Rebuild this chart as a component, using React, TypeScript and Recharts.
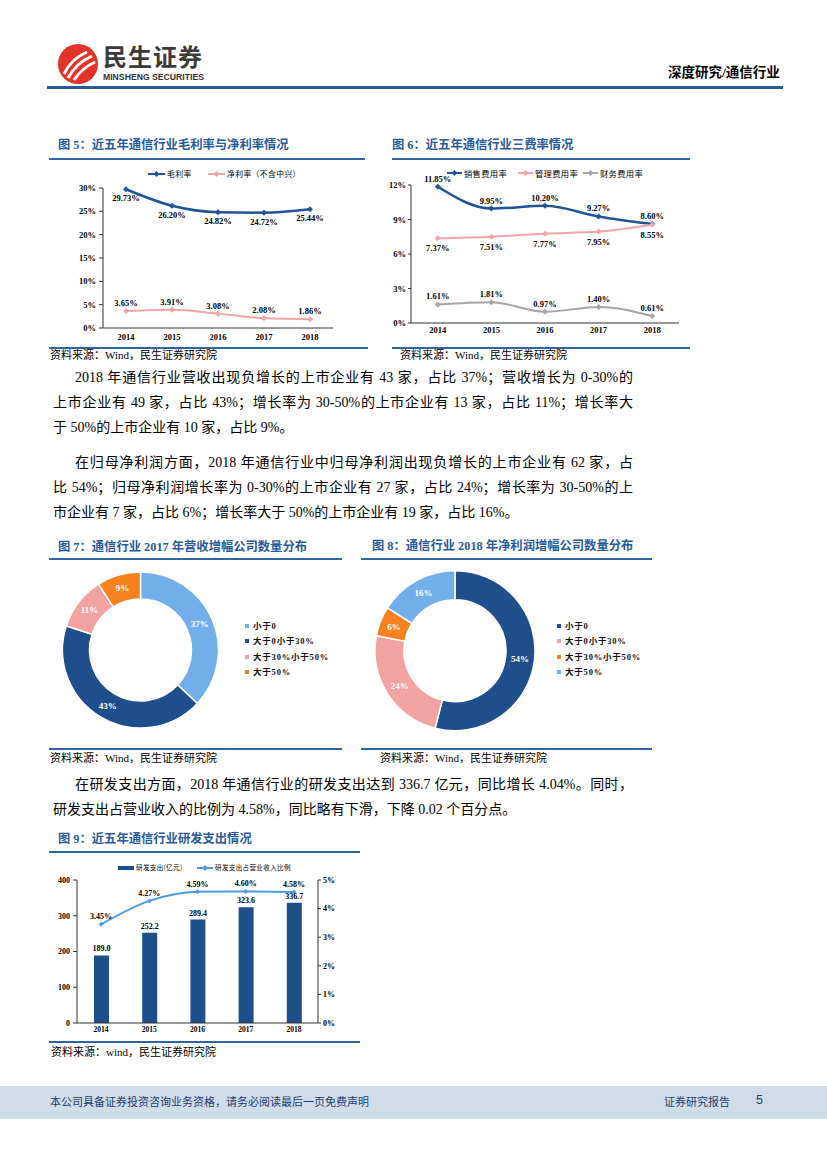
import React from 'react';
import { ComposedChart, Line, Bar, XAxis, YAxis, Legend, LabelList, PieChart, Pie, Cell } from 'recharts';

// ---------------- data ----------------
const years = ['2014', '2015', '2016', '2017', '2018'];
const grossMargin = [29.73, 26.2, 24.82, 24.72, 25.44];
const netMargin = [3.65, 3.91, 3.08, 2.08, 1.86];
const salesExpense = [11.85, 9.95, 10.2, 9.27, 8.6];
const adminExpense = [7.37, 7.51, 7.77, 7.95, 8.55];
const financeExpense = [1.61, 1.81, 0.97, 1.4, 0.61];
const growthGroups = ['小于0', '大于0小于30%', '大于30%小于50%', '大于50%'];
const revenueShares = [37, 43, 11, 9];
const profitShares = [54, 24, 6, 16];
const rdSpend = [189.0, 252.2, 289.4, 323.6, 336.7];
const rdRatio = [3.45, 4.27, 4.59, 4.6, 4.58];
const marginTicks = [0, 5, 10, 15, 20, 25, 30];
const expenseTicks = [0, 3, 6, 9, 12];
const rdTicks = [0, 100, 200, 300, 400];
const rdRatioTicks = [0, 1, 2, 3, 4, 5];
const marginSeries = ['毛利率', '净利率（不含中兴）'];
const expenseSeries = ['销售费用率', '管理费用率', '财务费用率'];
const rdSeries = ['研发支出(亿元)', '研发支出占营业收入比例'];

const para1 = [
  '2018 年通信行业营收出现负增长的上市企业有 43 家，占比 37%；营收增长为 0-30%的',
  '上市企业有 49 家，占比 43%；增长率为 30-50%的上市企业有 13 家，占比 11%；增长率大',
  '于 50%的上市企业有 10 家，占比 9%。',
];
const para2 = [
  '在归母净利润方面，2018 年通信行业中归母净利润出现负增长的上市企业有 62 家，占',
  '比 54%；归母净利润增长率为 0-30%的上市企业有 27 家，占比 24%；增长率为 30-50%的上',
  '市企业有 7 家，占比 6%；增长率大于 50%的上市企业有 19 家，占比 16%。',
];
const para3 = [
  '在研发支出方面，2018 年通信行业的研发支出达到 336.7 亿元，同比增长 4.04%。同时，',
  '研发支出占营业收入的比例为 4.58%，同比略有下滑，下降 0.02 个百分点。',
];

// ---------------- styles ----------------
const CJK = '"Noto Sans CJK SC", sans-serif';
const SERIF = '"Liberation Serif", "Noto Sans CJK SC", serif';
const DARK = '#1f4e8c';
const LINE_DARK = '#1f5496';
const PINK = '#f4a3a8';
const GRAY = '#a6a6a6';
const LIGHT = '#72aeea';
const ORANGE = '#f5821f';
const RDLINE = '#4f9be3';
const TITLE = '#2a5a9b';
const RULE = '#2f63a3';
const RAD = Math.PI / 180;

const marginData = years.map((y, i) => ({ year: y, gross: grossMargin[i], net: netMargin[i] }));
const expenseData = years.map((y, i) => ({ year: y, sales: salesExpense[i], admin: adminExpense[i], fin: financeExpense[i] }));
const rdData = years.map((y, i) => ({ year: y, spend: rdSpend[i], ratio: rdRatio[i] }));
const revColors = [LIGHT, DARK, '#f3a2a2', ORANGE];
const profColors = [DARK, '#f3a2a2', ORANGE, LIGHT];
const revData = growthGroups.map((g, i) => ({ name: g, value: revenueShares[i], fill: revColors[i] }));
const profData = growthGroups.map((g, i) => ({ name: g, value: profitShares[i], fill: profColors[i] }));

const pct = (v: any) => Number(v).toFixed(2) + '%';
const tickFont = { fontSize: 8.5, fontWeight: 'bold', fontFamily: SERIF, fill: '#000' } as any;
const orderBy = (names: string[]) => (item: any) => names.indexOf(String(item.value));

function diamond(color: string, r: number) {
  return (p: any) => {
    const { cx, cy, index } = p;
    if (cx == null || cy == null) return <g key={'d' + index} />;
    return (
      <polygon
        key={'d' + index}
        points={`${cx},${cy - r} ${cx + r},${cy} ${cx},${cy + r} ${cx - r},${cy}`}
        fill={color}
      />
    );
  };
}

function makeLineLegend(xs: number[], fontSize: number, markerW: number, height: number, spacing = 0) {
  return (props: any) => {
    const payload = props.payload || [];
    return (
      <div style={{ position: 'relative', width: '100%', height }}>
        {payload.map((item: any, i: number) => (
          <div
            key={i}
            style={{ position: 'absolute', left: xs[i], top: 0, height, display: 'flex', alignItems: 'center', whiteSpace: 'nowrap' }}
          >
            <svg width={markerW} height={8} style={{ display: 'block' }}>
              {item.type === 'rect' ? (
                <rect x={0} y={2} width={markerW} height={4} fill={item.color} />
              ) : (
                <g>
                  <line x1={0} y1={4} x2={markerW} y2={4} stroke={item.color} strokeWidth={2} />
                  <polygon
                    points={`${markerW / 2},1 ${markerW / 2 + 3},4 ${markerW / 2},7 ${markerW / 2 - 3},4`}
                    fill={item.color}
                  />
                </g>
              )}
            </svg>
            <span style={{ marginLeft: 2, fontSize, fontFamily: CJK, color: '#000', letterSpacing: spacing, lineHeight: 1 }}>
              {item.value}
            </span>
          </div>
        ))}
      </div>
    );
  };
}

function pieLegend(props: any) {
  const payload = props.payload || [];
  return (
    <div style={{ position: 'relative' }}>
      {payload.map((item: any, i: number) => (
        <div key={i} style={{ display: 'flex', alignItems: 'center', height: 15.5, whiteSpace: 'nowrap' }}>
          <div style={{ width: 4, height: 4, background: item.color, marginRight: 4 }} />
          <span style={{ fontSize: 8.5, fontFamily: SERIF, fontWeight: 'bold', color: '#111', letterSpacing: 0.8, lineHeight: 1 }}>
            {item.value}
          </span>
        </div>
      ))}
    </div>
  );
}

function pieLabel(p: any) {
  const { cx, cy, midAngle, innerRadius, outerRadius, value } = p;
  const r = (innerRadius + outerRadius) / 2;
  const x = cx + r * Math.cos(-midAngle * RAD);
  const y = cy + r * Math.sin(-midAngle * RAD);
  return (
    <text x={x} y={y} textAnchor="middle" dominantBaseline="central" fill="#fff" fontSize={9} fontWeight="bold" fontFamily={SERIF}>
      {value}%
    </text>
  );
}

// ---------------- page pieces ----------------
function Abs({ left, top, style, children }: any) {
  return <div style={{ position: 'absolute', left, top, ...style }}>{children}</div>;
}

function Rule({ x1, x2, y, h = 2, color = RULE }: any) {
  return <div style={{ position: 'absolute', left: x1, top: y - h / 2, width: x2 - x1, height: h, background: color }} />;
}

function FigTitle({ left, cy, text }: any) {
  return (
    <Abs left={left} top={cy - 8} style={{ fontSize: 12.3, lineHeight: '16px', fontWeight: 'bold', color: TITLE, fontFamily: SERIF, whiteSpace: 'nowrap' }}>
      {text}
    </Abs>
  );
}

function Source({ left, cy, text }: any) {
  return (
    <Abs left={left} top={cy - 7} style={{ fontSize: 11, lineHeight: '14px', color: '#000', fontFamily: SERIF, whiteSpace: 'nowrap' }}>
      {text}
    </Abs>
  );
}

function Para({ lines, ys }: any) {
  return (
    <>
      {lines.map((t: string, i: number) => {
        const first = i === 0;
        const last = i === lines.length - 1;
        return (
          <div
            key={i}
            style={{
              position: 'absolute',
              left: first ? 75 : 53,
              top: ys[i] - 10,
              width: first ? 558 : 580,
              height: 20,
              lineHeight: '20px',
              fontSize: 14,
              fontFamily: SERIF,
              color: '#000',
              whiteSpace: 'nowrap',
              textAlign: last ? 'left' : 'justify',
              textAlignLast: last ? 'left' : 'justify',
            } as any}
          >
            {t}
          </div>
        );
      })}
    </>
  );
}

function Header() {
  return (
    <>
      <Abs left={57} top={43}>
        <svg width={42} height={42}>
          <circle cx={21} cy={21} r={20} fill="#e3342c" />
          <path d="M7 31 Q 14 16 30 9" stroke="#fff" strokeWidth={3} fill="none" />
          <path d="M11 35 Q 19 20 35 13" stroke="#fff" strokeWidth={3} fill="none" />
          <path d="M17 37 Q 25 25 38 19" stroke="#fff" strokeWidth={3} fill="none" />
        </svg>
      </Abs>
      <Abs left={103} top={40} style={{ fontSize: 24, lineHeight: '32px', fontWeight: 'bold', fontFamily: CJK, color: '#3a3a3a', letterSpacing: 1, whiteSpace: 'nowrap' }}>
        民生证券
      </Abs>
      <Abs left={103} top={70}>
        <svg width={112} height={14}>
          <text x={0} y={10} fontSize={9.5} fontWeight="bold" fontFamily='"Liberation Sans", sans-serif' fill="#333" textLength={101} lengthAdjust="spacingAndGlyphs">
            MINSHENG SECURITIES
          </text>
        </svg>
      </Abs>
      <Abs left={668} top={64} style={{ fontSize: 13.5, lineHeight: '18px', fontWeight: 'bold', fontFamily: SERIF, color: '#000', whiteSpace: 'nowrap' }}>
        深度研究/通信行业
      </Abs>
      <Rule x1={47} x2={783} y={87} h={3} color="#2a5a9b" />
    </>
  );
}

function Footer() {
  return (
    <>
      <div style={{ position: 'absolute', left: 0, top: 1086, width: 827, height: 33, background: '#cfdcea' }} />
      <Abs left={50} top={1093} style={{ fontSize: 11, lineHeight: '16px', fontFamily: CJK, color: '#1f3d6e', whiteSpace: 'nowrap' }}>
        本公司具备证券投资咨询业务资格，请务必阅读最后一页免费声明
      </Abs>
      <Abs left={664} top={1093} style={{ fontSize: 11, lineHeight: '16px', fontFamily: CJK, color: '#1f3d6e', whiteSpace: 'nowrap' }}>
        证券研究报告
      </Abs>
      <Abs left={756} top={1092} style={{ fontSize: 12.5, lineHeight: '16px', fontFamily: '"Liberation Sans", sans-serif', color: '#1f3d6e' }}>
        5
      </Abs>
    </>
  );
}

// ---------------- charts ----------------
function Fig5() {
  return (
    <Abs left={48} top={160}>
      <ComposedChart width={305} height={188} data={marginData} margin={{ top: 0, right: 20, bottom: 0, left: 0 }}>
        <Legend
          verticalAlign="top"
          itemSorter={orderBy(marginSeries)}
          wrapperStyle={{ left: 0, top: 0, width: 305, height: 28 }}
          content={makeLineLegend([100, 160], 7.8, 17, 28, 0.4)}
        />
        <XAxis dataKey="year" scale="point" padding={{ left: 23, right: 23 }} tickLine={false} tickSize={4} tickMargin={2} height={20} tick={tickFont} stroke="#333" />
        <YAxis domain={[0, 30]} ticks={marginTicks} width={55} tickSize={4} tickMargin={3} tick={tickFont} tickFormatter={(v) => v + '%'} stroke="#333" />
        <Line type="monotone" dataKey="gross" name={marginSeries[0]} stroke={LINE_DARK} strokeWidth={2.5} dot={diamond(LINE_DARK, 3)} isAnimationActive={false}>
          <LabelList dataKey="gross" position="bottom" offset={6} formatter={pct} fill="#000" fontSize={8.5} fontWeight="bold" fontFamily={SERIF} />
        </Line>
        <Line type="monotone" dataKey="net" name={marginSeries[1]} stroke={PINK} strokeWidth={2} dot={diamond(PINK, 3)} isAnimationActive={false}>
          <LabelList dataKey="net" position="top" offset={5} formatter={pct} fill="#000" fontSize={8.5} fontWeight="bold" fontFamily={SERIF} />
        </Line>
      </ComposedChart>
    </Abs>
  );
}

function Fig6() {
  return (
    <Abs left={361} top={157}>
      <ComposedChart width={333} height={186} data={expenseData} margin={{ top: 0, right: 15, bottom: 0, left: 0 }}>
        <Legend
          verticalAlign="top"
          itemSorter={orderBy(expenseSeries)}
          wrapperStyle={{ left: 0, top: 2, width: 333, height: 28 }}
          content={makeLineLegend([86, 157, 222], 8.3, 15, 28, 0.3)}
        />
        <XAxis dataKey="year" scale="point" padding={{ left: 26.8, right: 26.8 }} tickLine={false} tickSize={3} tickMargin={1} height={20} tick={tickFont} stroke="#333" />
        <YAxis domain={[0, 12]} ticks={expenseTicks} width={50} tickSize={3} tickMargin={2} tick={tickFont} tickFormatter={(v) => v + '%'} stroke="#333" />
        <Line type="monotone" dataKey="sales" name={expenseSeries[0]} stroke={LINE_DARK} strokeWidth={2.5} dot={diamond(LINE_DARK, 3)} isAnimationActive={false}>
          <LabelList dataKey="sales" position="top" offset={5} formatter={pct} fill="#000" fontSize={8.5} fontWeight="bold" fontFamily={SERIF} />
        </Line>
        <Line type="monotone" dataKey="admin" name={expenseSeries[1]} stroke={PINK} strokeWidth={2} dot={diamond(PINK, 3)} isAnimationActive={false}>
          <LabelList dataKey="admin" position="bottom" offset={7} formatter={pct} fill="#000" fontSize={8.5} fontWeight="bold" fontFamily={SERIF} />
        </Line>
        <Line type="monotone" dataKey="fin" name={expenseSeries[2]} stroke={GRAY} strokeWidth={2} dot={diamond(GRAY, 3)} isAnimationActive={false}>
          <LabelList dataKey="fin" position="top" offset={5} formatter={pct} fill="#000" fontSize={8.5} fontWeight="bold" fontFamily={SERIF} />
        </Line>
      </ComposedChart>
    </Abs>
  );
}

function DonutChart({ left, top, cx, cy, inner, outer, data }: any) {
  return (
    <Abs left={left} top={top}>
      <PieChart width={300} height={180} margin={{ top: 0, right: 0, bottom: 0, left: 0 }}>
        <Pie
          data={data}
          dataKey="value"
          nameKey="name"
          cx={cx}
          cy={cy}
          innerRadius={inner}
          outerRadius={outer}
          startAngle={90}
          endAngle={-270}
          stroke="#fff"
          strokeWidth={1.5}
          label={pieLabel}
          labelLine={false}
          isAnimationActive={false}
        >
          {data.map((d: any, i: number) => (
            <Cell key={i} fill={d.fill} />
          ))}
        </Pie>
        <Legend
          layout="vertical"
          align="right"
          verticalAlign="top"
          itemSorter={orderBy(growthGroups)}
          wrapperStyle={{ left: 197, right: 'auto', top: 56, width: 100, height: 62 }}
          content={pieLegend}
        />
      </PieChart>
    </Abs>
  );
}

function Fig9() {
  return (
    <Abs left={40} top={855}>
      <ComposedChart width={313} height={188} data={rdData} margin={{ top: 0, right: 0, bottom: 0, left: 0 }}>
        <Legend
          verticalAlign="top"
          itemSorter={orderBy(rdSeries)}
          wrapperStyle={{ left: 0, top: 0, width: 313, height: 25 }}
          content={makeLineLegend([78, 157], 6.6, 16, 25, 0.3)}
        />
        <XAxis dataKey="year" tickLine={false} tickSize={3} tickMargin={1} height={20} tick={{ ...tickFont, fontSize: 7.5 }} stroke="#333" />
        <YAxis yAxisId="left" domain={[0, 400]} ticks={rdTicks} width={37} tickSize={4} tickMargin={3} tick={{ ...tickFont, fontSize: 8 }} stroke="#333" />
        <YAxis yAxisId="right" orientation="right" domain={[0, 5]} ticks={rdRatioTicks} width={35} tickSize={3} tickMargin={2} tick={{ ...tickFont, fontSize: 8 }} tickFormatter={(v) => v + '%'} stroke="#333" />
        <Bar yAxisId="left" dataKey="spend" name={rdSeries[0]} fill={DARK} barSize={15} legendType="rect" isAnimationActive={false}>
          <LabelList dataKey="spend" position="top" offset={4} formatter={(v: any) => Number(v).toFixed(1)} fill="#000" fontSize={8} fontWeight="bold" fontFamily={SERIF} />
        </Bar>
        <Line yAxisId="right" type="monotone" dataKey="ratio" name={rdSeries[1]} stroke={RDLINE} strokeWidth={2} dot={diamond(RDLINE, 2.5)} isAnimationActive={false}>
          <LabelList dataKey="ratio" position="top" offset={5} formatter={pct} fill="#000" fontSize={8} fontWeight="bold" fontFamily={SERIF} />
        </Line>
      </ComposedChart>
    </Abs>
  );
}

export default function App() {
  return (
    <div style={{ position: 'absolute', left: 0, top: 0, width: 827, height: 1169, background: '#fff', overflow: 'hidden' }}>
      <Header />

      <FigTitle left={58} cy={145} text="图 5：近五年通信行业毛利率与净利率情况" />
      <Rule x1={49} x2={365} y={158.5} />
      <FigTitle left={392} cy={145} text="图 6：近五年通信行业三费率情况" />
      <Rule x1={392} x2={690} y={158.5} />
      <Fig5 />
      <Fig6 />
      <Rule x1={49} x2={368} y={347.5} />
      <Rule x1={392} x2={690} y={347.5} />
      <Source left={50} cy={355} text="资料来源：Wind，民生证券研究院" />
      <Source left={400} cy={355} text="资料来源：Wind，民生证券研究院" />

      <Para lines={para1} ys={[378, 403, 428]} />
      <Para lines={para2} ys={[463, 488, 513]} />

      <FigTitle left={58} cy={546.5} text="图 7：通信行业 2017 年营收增幅公司数量分布" />
      <Rule x1={49} x2={342} y={558.5} />
      <FigTitle left={372} cy={546} text="图 8：通信行业 2018 年净利润增幅公司数量分布" />
      <Rule x1={361} x2={652} y={558.5} />
      <DonutChart left={48} top={562} cx={92.5} cy={88} inner={51} outer={78} data={revData} />
      <DonutChart left={360} top={562} cx={95} cy={88.7} inner={51} outer={80} data={profData} />
      <Rule x1={49} x2={342} y={748.5} />
      <Rule x1={361} x2={652} y={749} />
      <Source left={50} cy={758} text="资料来源：Wind，民生证券研究院" />
      <Source left={380} cy={758} text="资料来源：Wind，民生证券研究院" />

      <Para lines={para3} ys={[785, 810]} />

      <FigTitle left={58} cy={839} text="图 9：近五年通信行业研发支出情况" />
      <Rule x1={49} x2={360} y={851.5} />
      <Fig9 />
      <Rule x1={49} x2={360} y={1041.5} />
      <Source left={51} cy={1051.5} text="资料来源：wind，民生证券研究院" />

      <Footer />
    </div>
  );
}
